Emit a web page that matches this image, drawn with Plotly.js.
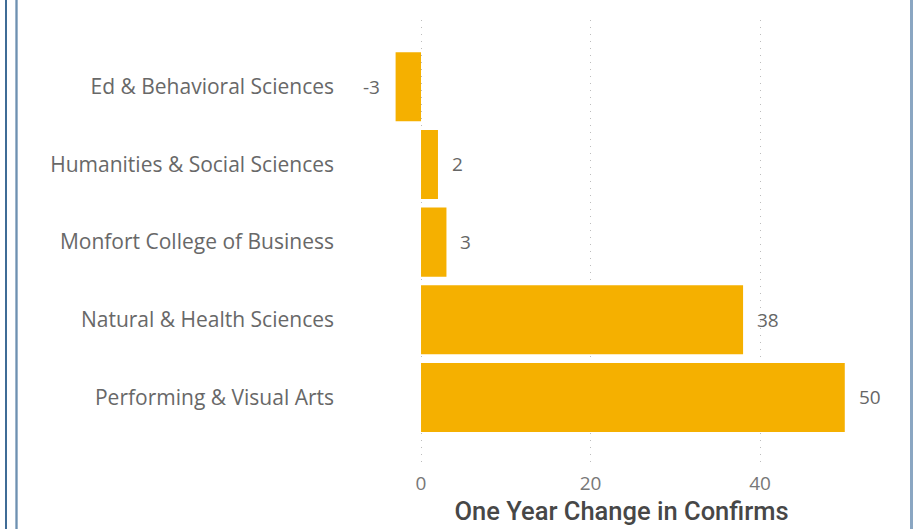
<!DOCTYPE html>
<html>
<head>
<meta charset="utf-8">
<script src="https://cdn.plot.ly/plotly-3.0.1.min.js"></script>
<style>
  html, body { margin: 0; padding: 0; background: #fff; }
  #wrap { position: relative; width: 915px; height: 529px; overflow: hidden; }
  #chart { position: absolute; left: 0; top: 0; width: 915px; height: 529px; }
  .bl { position: absolute; top: 0; height: 529px; }
</style>
</head>
<body>
<div id="wrap">
  <div id="chart"></div>
  <div class="bl" style="left:5px;width:2px;background:#3f6c96;"></div>
  <div class="bl" style="left:15px;width:3px;background:#9db6cc;"></div>
  <div class="bl" style="left:16px;width:1px;background:#6f90b0;"></div>
  <div class="bl" style="left:910px;width:3px;background:#8aa6c2;"></div>
</div>
<script>
const categories = ["Ed & Behavioral Sciences", "Humanities & Social Sciences", "Monfort College of Business", "Natural & Health Sciences", "Performing & Visual Arts"];
const values = [-3, 2, 3, 38, 50];
const xTickVals = [0, 20, 40];
const xTitle = "One Year Change in Confirms";

const trace = {
  type: "bar",
  orientation: "h",
  y: categories,
  x: values,
  marker: { color: "#F5B000", line: { width: 0 } },
  hoverinfo: "none"
};

const labelFont = { family: "Open Sans, sans-serif", size: 19, color: "#666666" };
const annotations = values.map((v, i) => ({
  x: v, y: categories[i], xref: "x", yref: "y",
  text: String(v),
  showarrow: false,
  xanchor: v < 0 ? "right" : "left",
  yanchor: "middle",
  xshift: v < 0 ? -14 : 12,
  font: labelFont
}));

const layout = {
  width: 915, height: 529,
  margin: { l: 345, r: 17, t: 20, b: 64 },
  paper_bgcolor: "rgba(0,0,0,0)",
  plot_bgcolor: "rgba(0,0,0,0)",
  showlegend: false,
  bargap: 0.11,
  annotations: annotations,
  xaxis: {
    range: [-8.97, 56.28],
    tickvals: xTickVals,
    ticktext: xTickVals.map(String),
    showgrid: true,
    gridcolor: "#bdbdbd",
    griddash: "1px,6px",
    gridwidth: 1,
    zeroline: false,
    showline: false,
    ticks: "",
    ticklabelstandoff: 5,
    tickfont: { family: "Open Sans, sans-serif", size: 19, color: "#777777" },
    title: { text: xTitle, font: { family: "Roboto, sans-serif", size: 25.5, color: "#474747", weight: 500 }, standoff: 6 },
    fixedrange: true
  },
  yaxis: {
    type: "category",
    range: [4.87, -0.86],
    showgrid: false,
    zeroline: false,
    showline: false,
    ticks: "",
    ticklabelstandoff: 10,
    tickfont: { family: "Open Sans, sans-serif", size: 21, color: "#686868" },
    fixedrange: true
  },
  font: { family: "Open Sans, sans-serif" }
};

Plotly.newPlot("chart", [trace], layout, { displayModeBar: false, staticPlot: true });
</script>
</body>
</html>
